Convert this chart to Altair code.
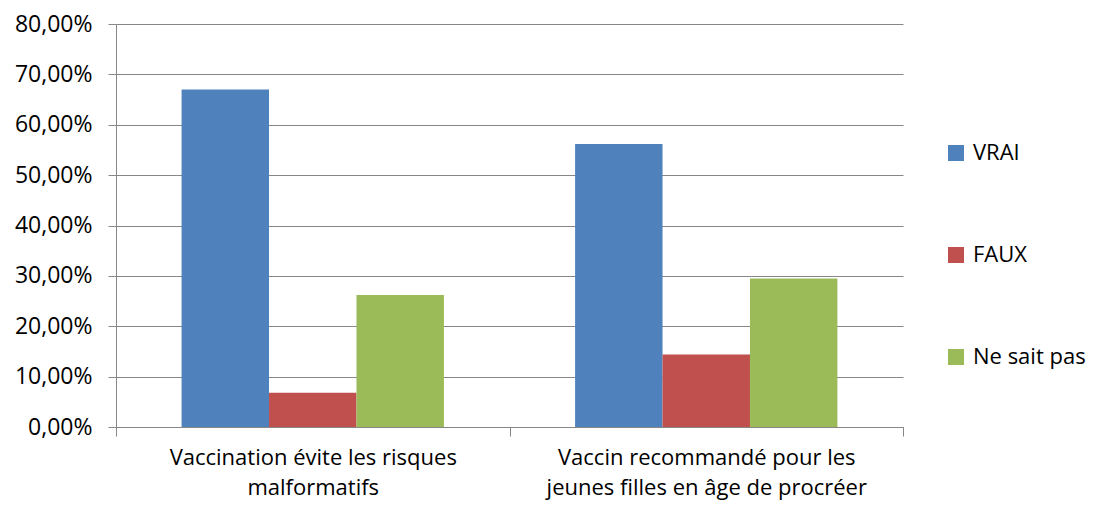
import altair as alt
import pandas as pd

categories = ["Vaccination évite les risques|malformatifs",
              "Vaccin recommandé pour les|jeunes filles en âge de procréer"]
series = ["VRAI", "FAUX", "Ne sait pas"]
vrai = [0.670, 0.562]
faux = [0.068, 0.144]
nsp = [0.262, 0.295]
colors = ["#4F81BD", "#C0504D", "#9BBB59"]
y_ticks = [0, 0.1, 0.2, 0.3, 0.4, 0.5, 0.6, 0.7, 0.8]

rows = []
for vals, s in zip([vrai, faux, nsp], series):
    for c, v in zip(categories, vals):
        rows.append({"cat": c, "serie": s, "val": v})
df = pd.DataFrame(rows)

FONT = "Open Sans"
GRAY = "#878787"

chart = alt.Chart(df).mark_bar().encode(
    x=alt.X("cat:N", sort=categories, title=None,
            scale=alt.Scale(paddingInner=0, paddingOuter=0),
            axis=alt.Axis(labelAngle=0, labelExpr="split(datum.label, '|')",
                          tickBand="extent", tickSize=9, tickColor=GRAY,
                          domainColor=GRAY, labelFont=FONT, labelFontSize=22,
                          labelColor="#000000", labelLineHeight=30,
                          labelPadding=11, grid=False, labelBaseline="top",
                          labelLimit=1000)),
    xOffset=alt.XOffset("serie:N", sort=series,
                        scale=alt.Scale(paddingInner=0, paddingOuter=0.75)),
    y=alt.Y("val:Q", title=None,
            scale=alt.Scale(domain=[0, 0.8], nice=False),
            axis=alt.Axis(values=y_ticks,
                          labelExpr="replace(format(datum.value, '.2%'), '.', ',')",
                          tickSize=8, tickColor=GRAY, domainColor=GRAY,
                          gridColor=GRAY, gridWidth=1, labelFont=FONT,
                          labelFontSize=23, labelColor="#000000",
                          labelPadding=16, labelLimit=1000)),
    color=alt.Color("serie:N", sort=series,
                    scale=alt.Scale(domain=series, range=colors),
                    legend=alt.Legend(title=None, orient="none", legendX=829,
                                      legendY=118, symbolType="square",
                                      symbolSize=256, symbolStrokeWidth=0,
                                      labelFont=FONT, labelFontSize=22,
                                      labelColor="#000000", rowPadding=80,
                                      labelOffset=6, padding=0,
                                      labelLimit=1000)),
).properties(
    width=787, height=403,
    padding={"left": 108, "top": 16, "right": 195, "bottom": 82},
    autosize=alt.AutoSizeParams(type="none"),
).configure_view(stroke=None).configure_axis(domainWidth=1, tickWidth=1)

chart.save("out.html", embed_options={"renderer": "svg", "actions": False})
